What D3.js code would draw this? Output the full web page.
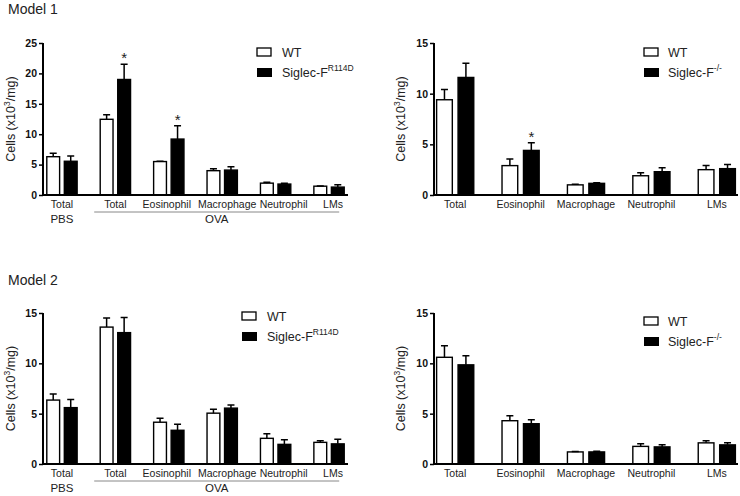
<!DOCTYPE html>
<html>
<head>
<meta charset="utf-8">
<script src="https://cdn.jsdelivr.net/npm/d3@7"></script>
<style>
body { margin: 0; background: #fff; }
svg { display: block; font-family: "Liberation Sans", Arial, sans-serif; }
</style>
</head>
<body>
<script>
// categories
const catsLeft = ["Total", "Total", "Eosinophil", "Macrophage", "Neutrophil", "LMs"];
const catsRight = ["Total", "Eosinophil", "Macrophage", "Neutrophil", "LMs"];

// Model 1, Siglec-F R114D
const m1aWT = [6.3, 12.45, 5.5, 4.0, 1.95, 1.45];
const m1aWTerr = [0.55, 0.75, 0.05, 0.3, 0.15, 0.05];
const m1aKO = [5.55, 19.0, 9.2, 4.1, 1.8, 1.3];
const m1aKOerr = [0.85, 2.5, 2.2, 0.55, 0.15, 0.4];
const m1aStars = [1, 2];

// Model 1, Siglec-F -/-
const m1bWT = [9.4, 2.9, 1.0, 1.9, 2.5];
const m1bWTerr = [1.0, 0.65, 0.05, 0.3, 0.4];
const m1bKO = [11.6, 4.4, 1.15, 2.3, 2.6];
const m1bKOerr = [1.4, 0.75, 0.05, 0.4, 0.4];
const m1bStars = [1];

// Model 2, Siglec-F R114D
const m2aWT = [6.35, 13.6, 4.15, 5.05, 2.55, 2.15];
const m2aWTerr = [0.6, 0.9, 0.4, 0.4, 0.45, 0.15];
const m2aKO = [5.6, 13.05, 3.35, 5.55, 1.95, 2.0];
const m2aKOerr = [0.8, 1.5, 0.6, 0.3, 0.45, 0.45];

// Model 2, Siglec-F -/-
const m2bWT = [10.6, 4.3, 1.2, 1.75, 2.1];
const m2bWTerr = [1.15, 0.5, 0.05, 0.25, 0.2];
const m2bKO = [9.85, 4.0, 1.2, 1.7, 1.9];
const m2bKOerr = [0.9, 0.4, 0.07, 0.2, 0.2];

const ticks25 = [0, 5, 10, 15, 20, 25];
const ticks15 = [0, 5, 10, 15];

var svg = d3.select("body").append("svg")
    .attr("width", 740)
    .attr("height", 496);

svg.append("text").attr("x", 8).attr("y", 14)
    .style("font-size", "14px").attr("fill", "#222").text("Model 1");
svg.append("text").attr("x", 8).attr("y", 285)
    .style("font-size", "14px").attr("fill", "#222").text("Model 2");

function drawPanel(p) {
    let g = svg.append("g");
    let idx = d3.range(p.cats.length);

    let x = d3.scaleBand()
        .domain(idx)
        .range([p.left, p.right])
        .paddingInner(0.432)
        .paddingOuter(p.po);

    let sub = d3.scaleBand()
        .domain(["wt", "ko"])
        .range([0, x.bandwidth()])
        .paddingInner(0.268);

    let y = d3.scaleLinear()
        .domain([0, p.max])
        .range([p.bottom, p.top]);

    // bars
    let series = [
        {key: "wt", vals: p.wt, err: p.wtErr, fill: "#fff"},
        {key: "ko", vals: p.ko, err: p.koErr, fill: "#000"}
    ];
    for (let s of series) {
        let bars = g.append("g");
        bars.selectAll("rect")
            .data(idx)
            .enter().append("rect")
            .attr("x", (i) => x(i) + sub(s.key))
            .attr("y", (i) => y(s.vals[i]))
            .attr("width", sub.bandwidth())
            .attr("height", (i) => y(0) - y(s.vals[i]))
            .attr("fill", s.fill)
            .attr("stroke", "#000")
            .attr("stroke-width", 1.4);
        // error bars (upper only)
        bars.selectAll("path")
            .data(idx)
            .enter().append("path")
            .attr("d", (i) => {
                let cx = x(i) + sub(s.key) + sub.bandwidth() / 2;
                let y1 = y(s.vals[i]);
                let y2 = y(s.vals[i] + s.err[i]);
                return `M${cx},${y1}V${y2}M${cx - 3.5},${y2}H${cx + 3.5}`;
            })
            .attr("fill", "none")
            .attr("stroke", "#000")
            .attr("stroke-width", 1.5);
    }

    // significance stars
    g.selectAll(".star")
        .data(p.stars || [])
        .enter().append("text")
        .attr("class", "star")
        .attr("x", (i) => x(i) + sub("ko") + sub.bandwidth() / 2)
        .attr("y", (i) => y(p.ko[i] + p.koErr[i]) - 1)
        .attr("text-anchor", "middle")
        .style("font-size", "15px")
        .attr("fill", "#222")
        .text("*");

    // y axis
    let yAxis = d3.axisLeft(y)
        .tickValues(p.ticks)
        .tickSize(4)
        .tickPadding(2);
    let ya = g.append("g")
        .attr("transform", `translate(${p.left},0)`)
        .call(yAxis);
    ya.select(".domain").attr("stroke-width", 2).attr("d", `M0,${p.top}V${p.bottom}`);
    ya.selectAll(".tick line").attr("stroke-width", 1.5);
    ya.selectAll(".tick text")
        .style("font-size", "10.5px")
        .style("font-weight", "bold")
        .style("font-family", "Liberation Sans, Arial, sans-serif")
        .attr("fill", "#111");

    // x axis
    let xAxis = d3.axisBottom(x)
        .tickSize(0)
        .tickPadding(6)
        .tickFormat((i) => p.cats[i]);
    let xa = g.append("g")
        .attr("transform", `translate(0,${p.bottom})`)
        .call(xAxis);
    xa.select(".domain").attr("stroke-width", 2).attr("d", `M${p.left},0H${p.right}`);
    xa.selectAll(".tick text")
        .attr("dx", (i) => p.labelShift ? p.labelShift[i] : 0)
        .style("font-size", "10.5px")
        .style("font-family", "Liberation Sans, Arial, sans-serif")
        .attr("fill", "#222");

    // PBS / OVA grouping
    if (p.pbs) {
        let cPbs = x(0) + x.bandwidth() / 2;
        g.append("text")
            .attr("x", cPbs)
            .attr("y", p.bottom + 28)
            .attr("text-anchor", "middle")
            .style("font-size", "11.5px")
            .attr("fill", "#222")
            .text("PBS");
        let x1 = x(1) - 6, x2 = x(idx.length - 1) + x.bandwidth() - 5;
        g.append("line")
            .attr("x1", x1).attr("x2", x2)
            .attr("y1", p.bottom + 17).attr("y2", p.bottom + 17)
            .attr("stroke", "#888")
            .attr("stroke-width", 1);
        g.append("text")
            .attr("x", (x1 + x2) / 2)
            .attr("y", p.bottom + 28)
            .attr("text-anchor", "middle")
            .style("font-size", "11.5px")
            .attr("fill", "#222")
            .text("OVA");
    }

    // y label
    let yl = g.append("text")
        .attr("transform", `translate(${p.labelX},${(p.top + p.bottom) / 2}) rotate(-90)`)
        .attr("text-anchor", "middle")
        .style("font-size", "12.5px")
        .attr("fill", "#222");
    yl.append("tspan").text("Cells (x10");
    yl.append("tspan").attr("dy", -5).style("font-size", "8.5px").text("3");
    yl.append("tspan").attr("dy", 5).text("/mg)");

    // legend
    let lg = g.append("g").attr("transform", `translate(${p.legX},${p.legY})`);
    lg.append("rect").attr("x", 0).attr("y", 0).attr("width", 14).attr("height", 8)
        .attr("fill", "#fff").attr("stroke", "#000").attr("stroke-width", 1.3);
    lg.append("rect").attr("x", 0).attr("y", 20).attr("width", 15).attr("height", 9)
        .attr("fill", "#000");
    lg.append("text").attr("x", p.legText).attr("y", 9)
        .style("font-size", "12.5px").attr("fill", "#222").text("WT");
    let kt = lg.append("text").attr("x", p.legText).attr("y", 29)
        .style("font-size", "12.5px").attr("fill", "#222");
    kt.append("tspan").text("Siglec-F");
    kt.append("tspan").attr("dy", -6).style("font-size", "8.5px").text(p.sup);
}

drawPanel({
    left: 43, right: 348, top: 43, bottom: 195, max: 25, ticks: ticks25, po: 0.071,
    cats: catsLeft, wt: m1aWT, wtErr: m1aWTerr, ko: m1aKO, koErr: m1aKOerr, stars: m1aStars,
    labelShift: [0, 0, -2, 5, 8, 4],
    pbs: true, labelX: 15, legX: 257, legY: 48, legText: 25, sup: "R114D"
});
drawPanel({
    left: 434, right: 738, top: 43, bottom: 195, max: 15, ticks: ticks15, po: 0.04,
    cats: catsRight, wt: m1bWT, wtErr: m1bWTerr, ko: m1bKO, koErr: m1bKOerr, stars: m1bStars,
    pbs: false, labelX: 405, legX: 644, legY: 48, legText: 24, sup: "-/-"
});
drawPanel({
    left: 43, right: 348, top: 313, bottom: 464, max: 15, ticks: ticks15, po: 0.071,
    cats: catsLeft, wt: m2aWT, wtErr: m2aWTerr, ko: m2aKO, koErr: m2aKOerr, stars: [],
    labelShift: [0, 0, -2, 5, 8, 4],
    pbs: true, labelX: 15, legX: 242, legY: 312, legText: 25, sup: "R114D"
});
drawPanel({
    left: 434, right: 738, top: 313, bottom: 464, max: 15, ticks: ticks15, po: 0.04,
    cats: catsRight, wt: m2bWT, wtErr: m2bWTerr, ko: m2bKO, koErr: m2bKOerr, stars: [],
    pbs: false, labelX: 405, legX: 644, legY: 317, legText: 24, sup: "-/-"
});
</script>
</body>
</html>
